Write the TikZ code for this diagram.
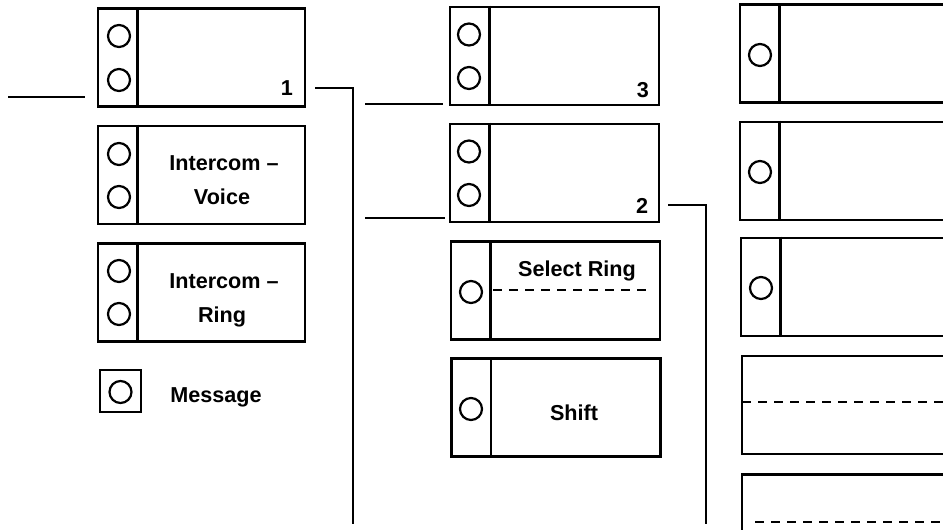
\documentclass[tikz,border=0pt]{standalone}
\usepackage{fontspec}
\setmainfont{Liberation Sans}
\begin{document}
\begin{tikzpicture}[x=0.5pt,y=-0.5pt,
    keybox/.style={draw,rectangle,line width=1.4pt,minimum height=49pt,inner sep=0pt},
    lamp/.style={draw,circle,line width=1.1pt,minimum size=11pt,inner sep=0pt},
    lbl/.style={font=\bfseries\fontsize{10.8}{12}\selectfont,inner sep=0pt,anchor=base},
    wire/.style={line width=1.2pt},
    cut/.style={line width=1.2pt,dash pattern=on 4.5pt off 3.5pt}]
  \useasboundingbox (0,0) rectangle (943,530);
  \clip (0,0) rectangle (943,530);
  % left column
  \node[keybox,minimum width=103.5pt] (k1) at (201.5,57.5) {};
  \node[keybox,minimum width=103.5pt] (voice) at (201.5,175) {};
  \node[keybox,minimum width=103.5pt] (ring) at (201.5,292.5) {};
  \node[keybox,minimum width=20.5pt,minimum height=21pt] (msg) at (120.5,391) {};
  \draw[wire] ([xshift=20.5pt]k1.north west) -- ([xshift=20.5pt]k1.south west);
  \draw[wire] ([xshift=20.5pt]voice.north west) -- ([xshift=20.5pt]voice.south west);
  \draw[wire] ([xshift=20.5pt]ring.north west) -- ([xshift=20.5pt]ring.south west);
  \node[lamp] (k1a) at (119,36) {};
  \node[lamp] (k1b) at (119,80) {};
  \node[lamp] (voicea) at (119,154) {};
  \node[lamp] (voiceb) at (119,197) {};
  \node[lamp] (ringa) at (119,271) {};
  \node[lamp] (ringb) at (119,314) {};
  \node[lamp] (msga) at (120.5,392) {};
  \node[lbl] (n1) at (287,95) {1};
  \node[lbl] (voice1) at (224,170.5) {Intercom –};
  \node[lbl] (voice2) at (222,204.5) {Voice};
  \node[lbl] (ring1) at (224,288) {Intercom –};
  \node[lbl] (ring2) at (222,322) {Ring};
  \node[lbl,anchor=base west] (msgtext) at (170,402) {Message};
  % middle column
  \node[keybox,minimum width=104.5pt] (k3) at (554.5,56) {};
  \node[keybox,minimum width=104.5pt] (k2) at (554.5,173) {};
  \node[keybox,minimum width=104.5pt] (sel) at (555.5,290.5) {};
  \node[keybox,minimum width=104.5pt] (shift) at (556,407.5) {};
  \draw[wire] ([xshift=20.5pt]k3.north west) -- ([xshift=20.5pt]k3.south west);
  \draw[wire] ([xshift=20.5pt]k2.north west) -- ([xshift=20.5pt]k2.south west);
  \draw[wire] ([xshift=20.5pt]sel.north west) -- ([xshift=20.5pt]sel.south west);
  \draw[wire] ([xshift=20.5pt]shift.north west) -- ([xshift=20.5pt]shift.south west);
  \node[lamp] (k3a) at (469,34.5) {};
  \node[lamp] (k3b) at (469,78) {};
  \node[lamp] (k2a) at (469,151.5) {};
  \node[lamp] (k2b) at (469,195) {};
  \node[lamp] (sela) at (471,292) {};
  \node[lamp] (shifta) at (471,409) {};
  \node[lbl] (n3) at (643,97) {3};
  \node[lbl] (n2) at (642,213) {2};
  \node[lbl] (seltext) at (577,276) {Select Ring};
  \node[lbl] (shifttext) at (574,420) {Shift};
  \draw[cut] (493,290) -- (653,290);
  % right column
  \node[keybox,minimum width=110pt] (r1) at (850,53.5) {};
  \node[keybox,minimum width=110pt] (r2) at (850,171) {};
  \node[keybox,minimum width=110pt] (r3) at (851,287) {};
  \node[keybox,minimum width=110pt] (r4) at (852,405) {};
  \node[keybox,minimum width=110pt] (r5) at (852,523.5) {};
  \draw[wire] ([xshift=20.5pt]r1.north west) -- ([xshift=20.5pt]r1.south west);
  \draw[wire] ([xshift=20.5pt]r2.north west) -- ([xshift=20.5pt]r2.south west);
  \draw[wire] ([xshift=20.5pt]r3.north west) -- ([xshift=20.5pt]r3.south west);
  \node[lamp] (r1a) at (760,55) {};
  \node[lamp] (r2a) at (760,172) {};
  \node[lamp] (r3a) at (761,288) {};
  \draw[cut] (742,402) -- (950,402);
  \draw[cut] (755,522) -- (950,522);
  % leader lines
  \coordinate (a1) at (8,97);
  \coordinate (b1) at (85,97);
  \coordinate (c1) at (315,88);
  \coordinate (d1) at (353,88);
  \coordinate (e1) at (353,524);
  \coordinate (a3) at (365,104);
  \coordinate (b3) at (443,104);
  \coordinate (a2) at (365,218);
  \coordinate (b2) at (445,218);
  \coordinate (c2) at (668,205);
  \coordinate (d2) at (706,205);
  \coordinate (e2) at (706,524);
  \begin{scope}[wire]
    \draw (a1) -- (b1);
    \draw (c1) -- (d1) -- (e1);
    \draw (a3) -- (b3);
    \draw (a2) -- (b2);
    \draw (c2) -- (d2) -- (e2);
  \end{scope}
\end{tikzpicture}
\end{document}
